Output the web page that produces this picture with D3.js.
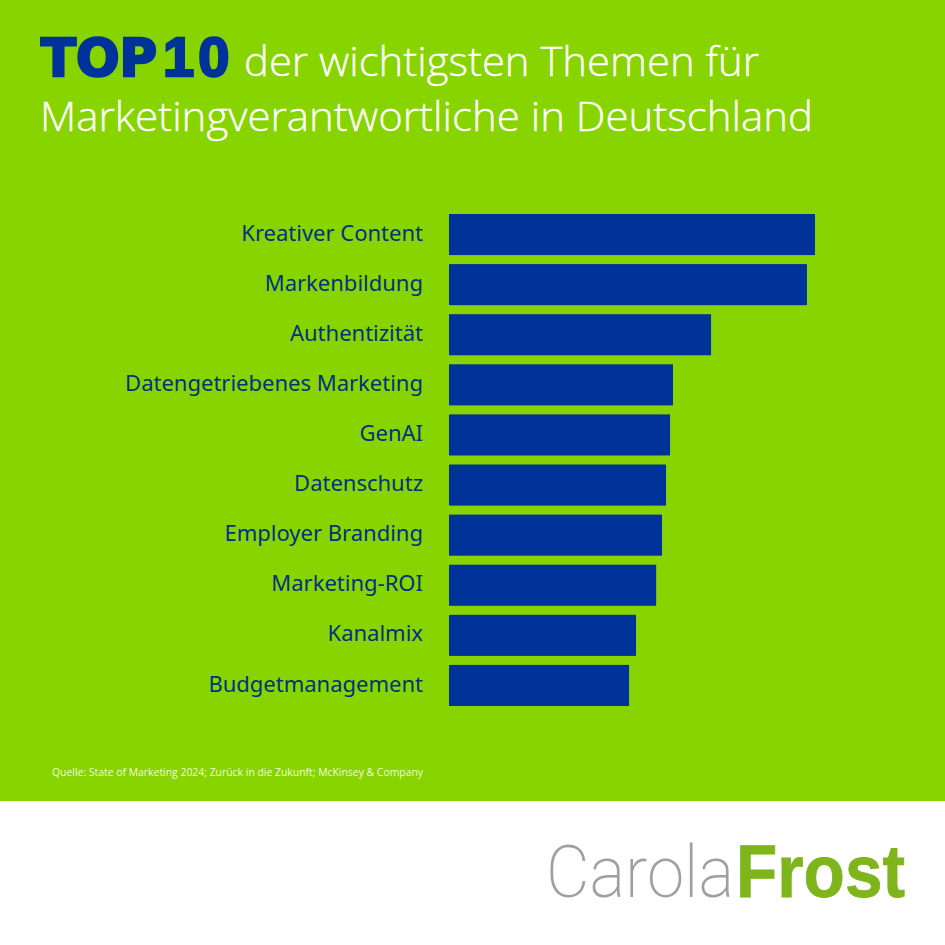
<!DOCTYPE html>
<html>
<head>
<meta charset="utf-8">
<script src="https://cdn.jsdelivr.net/npm/d3@7"></script>
<style>
  html, body { margin: 0; padding: 0; background: #fff; }
  svg { display: block; }
</style>
</head>
<body>
<div id="chart"></div>
<script>
// values, longest bar = 100 (no numbers in the original)
var themen = ["Kreativer Content", "Markenbildung", "Authentizität", "Datengetriebenes Marketing", "GenAI",
  "Datenschutz", "Employer Branding", "Marketing-ROI", "Kanalmix", "Budgetmanagement"];
var werte = [100, 97.8, 71.6, 61.2, 60.4, 59.3, 58.2, 56.6, 51.1, 49.2];

var green = "#88d400", blue = "#003399";

var svg = d3.select("#chart").append("svg").attr("width", 945).attr("height", 945);

svg.append("rect").attr("width", 945).attr("height", 801).attr("fill", green);

// title
svg.append("text").attr("x", 41).attr("y", 76)
  .attr("font-family", "'DejaVu Sans'").attr("font-weight", 700).attr("font-size", 52)
  .attr("fill", blue).attr("stroke", blue).attr("stroke-width", 2.5)
  .attr("textLength", 116).attr("lengthAdjust", "spacingAndGlyphs")
  .text("TOP");

var zehn = svg.append("text").attr("x", 163).attr("y", 76)
  .attr("font-family", "'Liberation Sans'").attr("font-weight", 700).attr("font-size", 56)
  .attr("fill", blue).attr("stroke", blue).attr("stroke-width", 2.5);
zehn.append("tspan").text("1");
zehn.append("tspan").attr("dx", 4).text("0");

svg.append("text").attr("x", 244).attr("y", 76)
  .attr("font-family", "'Open Sans'").attr("font-weight", 300).attr("font-size", 40)
  .attr("fill", "#fff").attr("stroke", "#fff").attr("stroke-width", 0.3)
  .attr("textLength", 515).attr("lengthAdjust", "spacingAndGlyphs")
  .text("der wichtigsten Themen für");

svg.append("text").attr("x", 40).attr("y", 131)
  .attr("font-family", "'Open Sans'").attr("font-weight", 300).attr("font-size", 40)
  .attr("fill", "#fff").attr("stroke", "#fff").attr("stroke-width", 0.3)
  .attr("textLength", 773).attr("lengthAdjust", "spacingAndGlyphs")
  .text("Marketingverantwortliche in Deutschland");

// bars
var x = d3.scaleLinear().domain([0, 100]).range([449, 815]);
var y = d3.scaleBand().domain(themen).range([214, 706]).paddingInner(0.18);

svg.selectAll("rect.bar")
  .data(themen)
  .enter().append("rect")
  .attr("class", "bar")
  .attr("x", x(0))
  .attr("y", function(d) { return y(d); })
  .attr("width", function(d, i) { return x(werte[i]) - x(0); })
  .attr("height", y.bandwidth())
  .attr("fill", blue);

var yAxis = svg.append("g")
  .attr("transform", "translate(" + x(0) + ",-1)")
  .call(d3.axisLeft(y).tickSize(0).tickPadding(26));
yAxis.select(".domain").remove();
yAxis.selectAll("text")
  .attr("font-family", "'Noto Sans'")
  .attr("font-size", 22)
  .attr("fill", "#003380");

// source
svg.append("text").attr("x", 423).attr("y", 776).attr("text-anchor", "end")
  .attr("font-family", "'Open Sans'").attr("font-size", 10.5).attr("fill", "#f2fbd8")
  .attr("textLength", 371).attr("lengthAdjust", "spacingAndGlyphs")
  .text("Quelle: State of Marketing 2024;  Zurück in die Zukunft; McKinsey & Company");

// logo
svg.append("text").attr("x", 546).attr("y", 897)
  .attr("font-family", "'Roboto'").attr("font-weight", 200).attr("font-size", 73)
  .attr("fill", "#a0a0a0").attr("textLength", 188).attr("lengthAdjust", "spacingAndGlyphs")
  .text("Carola");
svg.append("text").attr("x", 736).attr("y", 897)
  .attr("font-family", "'Liberation Sans'").attr("font-weight", 700).attr("font-size", 74)
  .attr("fill", "#7db51b").attr("stroke", "#7db51b").attr("stroke-width", 0.8)
  .attr("textLength", 169).attr("lengthAdjust", "spacingAndGlyphs")
  .text("Frost");
</script>
</body>
</html>
